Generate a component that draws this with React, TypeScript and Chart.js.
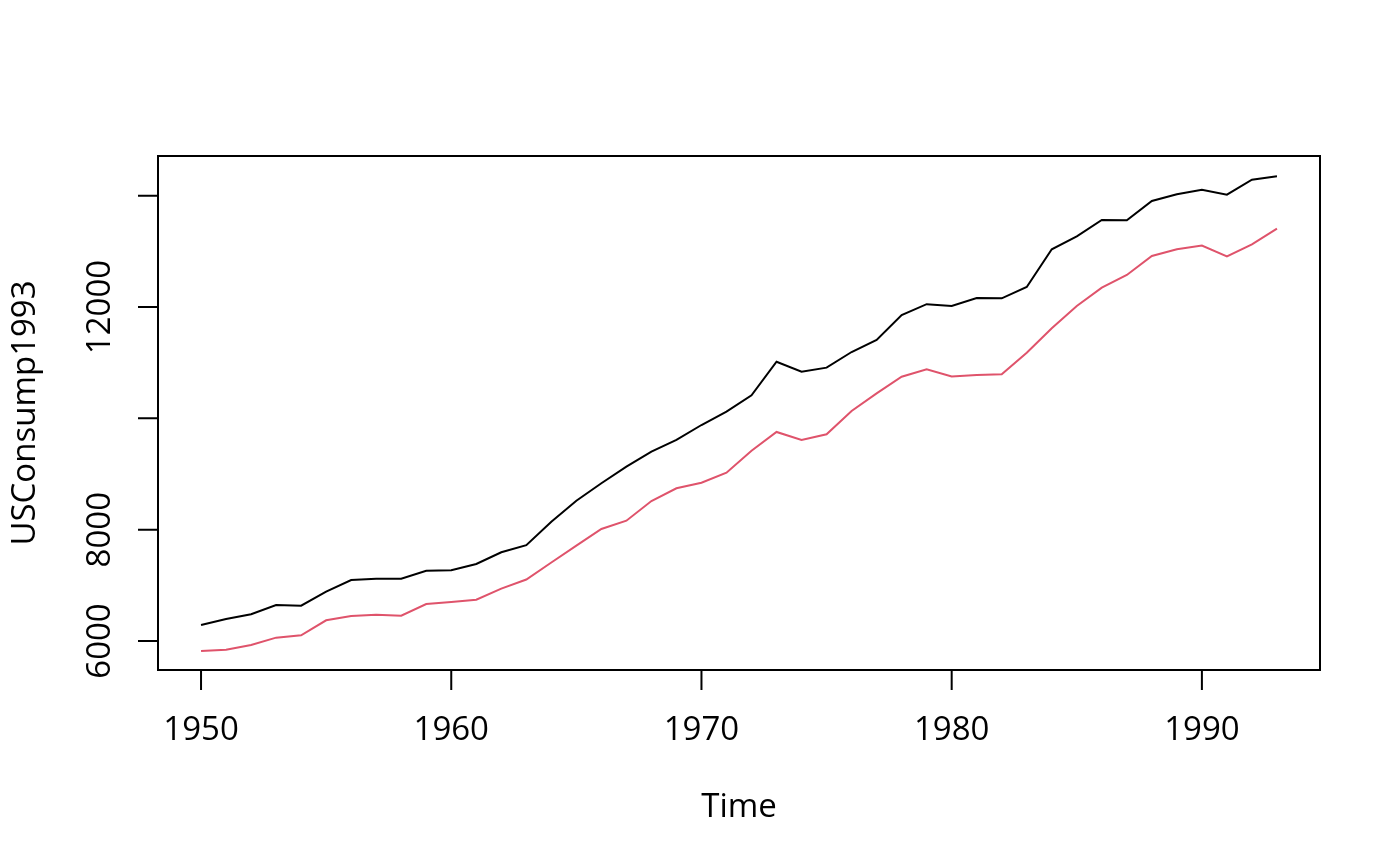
import { Chart, registerables } from "chart.js";
import { useEffect, useRef } from "react";

Chart.register(...registerables);

// USConsump1993 (per capita, 1987 dollars)
const years = [
    1950, 1951, 1952, 1953, 1954, 1955, 1956, 1957, 1958, 1959,
    1960, 1961, 1962, 1963, 1964, 1965, 1966, 1967, 1968, 1969,
    1970, 1971, 1972, 1973, 1974, 1975, 1976, 1977, 1978, 1979,
    1980, 1981, 1982, 1983, 1984, 1985, 1986, 1987, 1988, 1989,
    1990, 1991, 1992, 1993
];

const income = [
    6287, 6395, 6480, 6647, 6634, 6886, 7096, 7120, 7120, 7263,
    7270, 7383, 7593, 7722, 8143, 8520, 8833, 9131, 9401, 9611,
    9880, 10119, 10413, 11017, 10838, 10910, 11191, 11407, 11856, 12050,
    12018, 12161, 12156, 12359, 13036, 13270, 13562, 13557, 13904, 14024,
    14107, 14017, 14286, 14347
];

const expenditure = [
    5820, 5844, 5928, 6060, 6102, 6372, 6449, 6473, 6455, 6665,
    6700, 6742, 6940, 7105, 7410, 7712, 8012, 8161, 8515, 8743,
    8844, 9024, 9419, 9755, 9611, 9713, 10132, 10449, 10748, 10882,
    10752, 10778, 10790, 11178, 11617, 12018, 12347, 12575, 12916, 13036,
    13102, 12910, 13126, 13408
];

const xTicks = [1950, 1960, 1970, 1980, 1990];
const yTicks = [6000, 8000, 10000, 12000, 14000];
// R drops the labels that would overlap
const yTickLabels = ["6000", "8000", "", "12000", ""];

const xTitle = "Time";
const yTitle = "USConsump1993";

const FONT = '33px "Open Sans"';

const baseAxes = {
    id: "baseAxes",
    afterDraw(chart: any) {
        const ctx = chart.ctx;
        const { left, right, top, bottom } = chart.chartArea;
        const xs = chart.scales.x;
        const ys = chart.scales.y;
        ctx.save();
        ctx.strokeStyle = "#000";
        ctx.fillStyle = "#000";
        ctx.lineWidth = 2;

        // box
        ctx.strokeRect(left, top, right - left, bottom - top);

        // x axis
        ctx.beginPath();
        ctx.moveTo(xs.getPixelForValue(xTicks[0]), bottom);
        ctx.lineTo(xs.getPixelForValue(xTicks[xTicks.length - 1]), bottom);
        xTicks.forEach((t) => {
            const px = xs.getPixelForValue(t);
            ctx.moveTo(px, bottom);
            ctx.lineTo(px, bottom + 20);
        });
        ctx.stroke();
        ctx.font = FONT;
        ctx.textAlign = "center";
        ctx.textBaseline = "alphabetic";
        xTicks.forEach((t) => {
            ctx.fillText(String(t), xs.getPixelForValue(t), 740);
        });
        ctx.fillText(xTitle, (left + right) / 2, 817);

        // y axis
        ctx.beginPath();
        ctx.moveTo(left, ys.getPixelForValue(yTicks[0]));
        ctx.lineTo(left, ys.getPixelForValue(yTicks[yTicks.length - 1]));
        yTicks.forEach((t) => {
            const py = ys.getPixelForValue(t);
            ctx.moveTo(left, py);
            ctx.lineTo(left - 20, py);
        });
        ctx.stroke();
        yTicks.forEach((t, i) => {
            if (!yTickLabels[i]) return;
            ctx.save();
            ctx.translate(110, ys.getPixelForValue(t));
            ctx.rotate(-Math.PI / 2);
            ctx.fillText(yTickLabels[i], 0, 0);
            ctx.restore();
        });
        ctx.save();
        ctx.translate(35, (top + bottom) / 2);
        ctx.rotate(-Math.PI / 2);
        ctx.fillText(yTitle, 0, 0);
        ctx.restore();

        ctx.restore();
    }
};

export default function App() {
    const chartRef = useRef<HTMLCanvasElement | null>(null);

    useEffect(() => {
        if (!chartRef.current) return;
        const chartInstance = new Chart(chartRef.current, {
            type: "line",
            data: {
                labels: years,
                datasets: [
                    {
                        label: "income",
                        data: years.map((y, i) => ({ x: y, y: income[i] })),
                        borderColor: "#000000",
                        borderWidth: 2,
                        pointRadius: 0,
                        tension: 0,
                        fill: false
                    },
                    {
                        label: "expenditure",
                        data: years.map((y, i) => ({ x: y, y: expenditure[i] })),
                        borderColor: "#DF536B",
                        borderWidth: 2,
                        pointRadius: 0,
                        tension: 0,
                        fill: false
                    }
                ]
            },
            options: {
                animation: false,
                responsive: false,
                devicePixelRatio: 1,
                layout: {
                    padding: { left: 158, top: 156, right: 80, bottom: 196 }
                },
                plugins: {
                    legend: { display: false },
                    tooltip: { enabled: false }
                },
                scales: {
                    x: {
                        type: "linear",
                        min: 1948.28,
                        max: 1994.72,
                        display: false
                    },
                    y: {
                        type: "linear",
                        min: 5479,
                        max: 14712,
                        display: false
                    }
                }
            },
            plugins: [baseAxes]
        });
        return () => {
            chartInstance.destroy();
        };
    }, []);

    return (
        <div style={{ position: "absolute", left: 0, top: 0, width: 1400, height: 866, background: "#fff" }}>
            <canvas ref={chartRef} width={1400} height={866} />
        </div>
    );
}
